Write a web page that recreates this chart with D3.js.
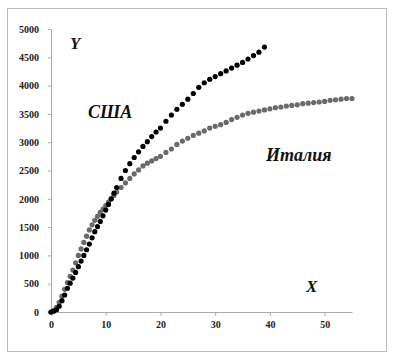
<!DOCTYPE html>
<html lang="ru">
<head>
<meta charset="UTF-8" />
<title>США и Италия</title>
<style>
  body { margin: 0; background: #fff; }
  .tick line, .domain { stroke: #aaa; }
</style>
</head>
<body>
<div class="chart"></div>
<script src="https://d3js.org/d3.v7.min.js"></script>
<script>
// значения по X (в начале точки идут чаще)
const usaX = [0, 0.5, 1, 1.5, 2, 2.5, 3, 3.5, 4, 4.5, 5, 5.5, 6, 6.5, 7, 7.5, 8, 8.5, 9, 9.5,
  10, 10.5, 11, 11.5, 12, 12.8, 13.6, 14.4, 15.2, 16, 16.8, 17.6, 18.4, 19.2,
  20, 21, 22, 23, 24, 25, 26, 27, 28, 29,
  30, 31, 32, 33, 34, 35, 36, 37, 38, 39]
const italyX = [0, 0.5, 1, 1.5, 2, 2.5, 3, 3.5, 4, 4.5, 5, 5.5, 6, 6.5, 7, 7.5, 8, 8.5, 9, 9.5,
  10, 10.5, 11, 11.5, 12, 12.8, 13.6, 14.4, 15.2, 16, 16.8, 17.6, 18.4, 19.2,
  20, 21, 22, 23, 24, 25, 26, 27, 28, 29,
  30, 31, 32, 33, 34, 35, 36, 37, 38, 39, 40, 41, 42, 43, 44, 45,
  46, 47, 48, 49, 50, 51, 52, 53, 54, 55]

// значения по Y
const usaY = [0, 15, 40, 100, 200, 300, 420, 510, 600, 700, 800, 900, 1000, 1100, 1200, 1310,
  1420, 1510, 1600, 1700, 1800, 1900, 2000, 2100, 2200, 2360, 2500, 2620, 2730,
  2830, 2925, 3010, 3100, 3180, 3250,
  3370, 3480, 3580, 3670, 3760, 3860, 3970, 4050, 4110,
  4160, 4210, 4260, 4310, 4360, 4410, 4470, 4530, 4590, 4680]

const italyY = [0, 30, 80, 170, 280, 400, 520, 630, 740, 870, 1000, 1115, 1230, 1340, 1450,
  1540, 1620, 1690, 1760, 1820, 1880, 1940, 2000, 2060, 2120, 2200, 2280, 2360, 2440,
  2510, 2580, 2630, 2670, 2710, 2750,
  2820, 2880, 2960, 3020, 3070, 3120, 3160, 3200, 3250,
  3280, 3310, 3350, 3400, 3440, 3480, 3510, 3530, 3550, 3570, 3590, 3610,
  3620, 3640, 3650, 3660, 3680, 3690, 3700, 3710, 3720, 3740, 3750, 3760, 3770, 3770]

const xTicks = [0, 10, 20, 30, 40, 50]
const yTicks = [0, 500, 1000, 1500, 2000, 2500, 3000, 3500, 4000, 4500, 5000]

const width = 394, height = 362
const serif = '"Liberation Serif", "DejaVu Serif", serif'

const svg = d3.select('.chart').append('svg')
  .attr('width', width)
  .attr('height', height)

// рамка
svg.append('rect')
  .attr('x', 7.5).attr('y', 8.5)
  .attr('width', 379).attr('height', 343)
  .attr('fill', 'none')
  .attr('stroke', '#bbb')

const xScale = d3.scaleLinear().domain([0, 55]).range([51, 352])
const yScale = d3.scaleLinear().domain([0, 5000]).range([312, 29])

const xAxisGroup = svg.append('g')
  .attr('transform', `translate(0, ${yScale(0)})`)
  .call(d3.axisBottom(xScale).tickValues(xTicks).tickFormat(d3.format('d'))
    .tickSize(4).tickPadding(5).tickSizeOuter(0))

const yAxisGroup = svg.append('g')
  .attr('transform', `translate(${xScale(0)}, 0)`)
  .call(d3.axisLeft(yScale).tickValues(yTicks).tickFormat(d3.format('d'))
    .tickSize(3).tickPadding(9).tickSizeOuter(0))

svg.selectAll('.tick text')
  .attr('font-family', serif)
  .style('font-family', serif)
  .style('font-weight', 'bold')
  .style('font-size', '10px')
  .style('fill', '#222')

const italy = italyX.map((x, i) => ({ x, y: italyY[i] }))
const usa = usaX.map((x, i) => ({ x, y: usaY[i] }))

svg.append('g').selectAll('circle')
  .data(italy)
  .join('circle')
  .attr('cx', d => xScale(d.x))
  .attr('cy', d => yScale(d.y))
  .attr('r', 2.6)
  .attr('fill', '#6a6a6a')

svg.append('g').selectAll('circle')
  .data(usa)
  .join('circle')
  .attr('cx', d => xScale(d.x))
  .attr('cy', d => yScale(d.y))
  .attr('r', 2.6)
  .attr('fill', '#000')

// подписи
const label = (txt, x, y, size) => svg.append('text')
  .attr('x', x).attr('y', y)
  .style('font-family', serif)
  .style('font-style', 'italic')
  .style('font-weight', 'bold')
  .style('font-size', size + 'px')
  .style('fill', '#111')
  .text(txt)

label('Y', 70, 49, 17)
label('США', 88, 118, 18)
label('Италия', 266, 161, 18)
label('X', 306, 292, 17)
</script>
</body>
</html>
